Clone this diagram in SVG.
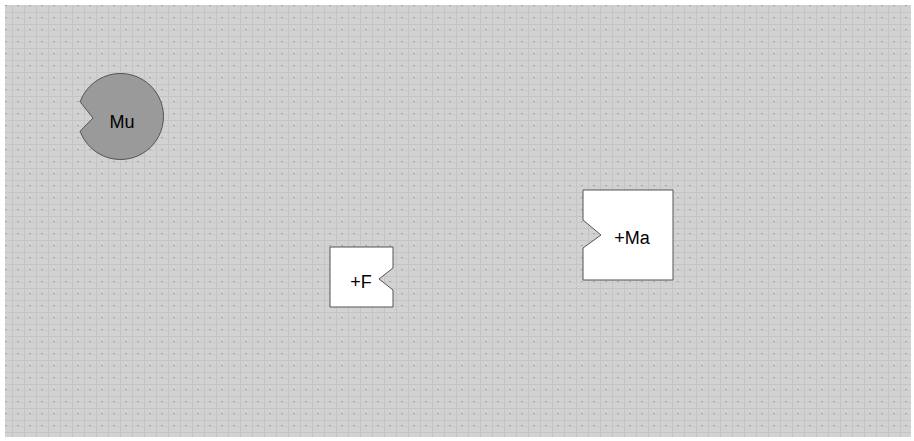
<svg xmlns="http://www.w3.org/2000/svg" width="914" height="441" viewBox="0 0 914 441">
<style>
.lbl{font-family:"Liberation Sans",Arial,sans-serif;font-size:18px;fill:#000;text-anchor:middle;dominant-baseline:central}
.box{fill:#fff;stroke:#555;stroke-width:1}
.disc{fill:#9a9a9a;stroke:#555;stroke-width:1}
</style>
<defs>
<pattern id="tex" width="12" height="12" patternUnits="userSpaceOnUse">
<rect width="12" height="12" fill="#d2d2d2"/>
<rect x="0" y="0" width="12" height="1" fill="#c4c4c4"/>
<rect x="0" y="0" width="1" height="12" fill="#c4c4c4"/>
<rect x="5" y="5" width="2" height="2" fill="#a8a8a8"/>
<rect x="0" y="6" width="12" height="1" fill="#cacaca"/>
</pattern>
</defs>
<rect width="914" height="441" fill="#fff"/>
<rect x="5" y="5" width="906" height="432" fill="url(#tex)"/>
<g id="connectors"/>
<g id="node-mu">
<path class="disc" d="M80.1,101.8 A43,43 0 1 1 80.1,131.2 L93,118 Z"/>
<text class="lbl" x="122" y="122">Mu</text>
</g>
<g id="node-f">
<path class="box" d="M330,247 H393 V268 L379,279 L393,290 V307 H330 Z"/>
<text class="lbl" x="361" y="282">+F</text>
</g>
<g id="node-ma">
<path class="box" d="M583,190 H673 V280 H583 V248 L601,235 L583,220 Z"/>
<text class="lbl" x="632" y="238">+Ma</text>
</g>
</svg>
